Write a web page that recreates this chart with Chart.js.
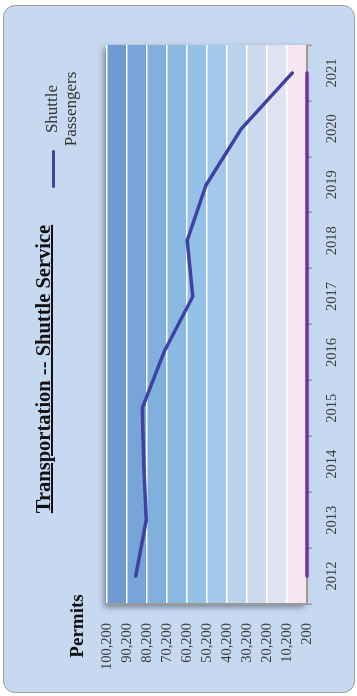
<!DOCTYPE html>
<html>
<head>
<meta charset="utf-8">
<script src="https://cdn.jsdelivr.net/npm/chart.js@4/dist/chart.umd.min.js"></script>
<style>
  html, body { margin: 0; padding: 0; background: #ffffff; }
  body { width: 357px; height: 696px; overflow: hidden; position: relative; }
  /* The chart is laid out landscape and turned a quarter-turn counter-clockwise */
  #wrap {
    position: absolute; left: 0; top: 0; width: 696px; height: 357px;
    transform-origin: 0 0;
    transform: translate(0px, 696px) rotate(-90deg);
  }
  #panel {
    position: absolute; left: 3px; top: 3px; width: 688px; height: 352px;
    box-sizing: border-box; border: 1.5px solid #9c9c9c; border-radius: 12px;
    background: #c6d9f0;
  }
  #chart { position: absolute; left: 0; top: 0; }
  .txt { position: absolute; font-family: "Liberation Serif", "Times New Roman", serif; color: #222; text-align: center; white-space: nowrap; }
  #title { left: 127px; width: 400px; top: 33px; font-size: 20.5px; line-height: 20px; font-weight: bold; text-decoration: underline; text-decoration-thickness: 1.5px; color: #111; }
  #ytitle { left: 20px; width: 100px; top: 67px; font-size: 19px; line-height: 19px; font-weight: bold; color: #111; }
  #legendText { left: 537px; width: 100px; top: 43px; font-size: 17px; line-height: 18.5px; color: #333; }
  #legendLine { position: absolute; left: 508px; top: 51.5px; width: 38px; height: 3.5px; border-radius: 2px; background: #3f42a3; }
</style>
</head>
<body>
<div id="wrap">
  <div id="panel"></div>
  <canvas id="chart" width="696" height="357"></canvas>
  <div id="title" class="txt">Transportation -- Shuttle Service</div>
  <div id="ytitle" class="txt">Permits</div>
  <div id="legendLine"></div>
  <div id="legendText" class="txt">Shuttle<br>Passengers</div>
</div>
<script>
// Years on the category axis
const years = ['2012', '2013', '2014', '2015', '2016', '2017', '2018', '2019', '2020', '2021'];

// Shuttle passengers per year
const shuttlePassengers = [85800, 80600, 81800, 82600, 71800, 57300, 60100, 50600, 33100, 7600];

// Flat series lying on the axis floor
const permitsBase = [200, 200, 200, 200, 200, 200, 200, 200, 200, 200];

// Value-axis ticks
const valueTicks = [200, 10200, 20200, 30200, 40200, 50200, 60200, 70200, 80200, 90200, 100200];

// Band fills, lowest band first
const bandColors = ['#f5e6f0', '#e1e2f1', '#ccdaed', '#b9d3ed', '#a4c8ea', '#94c1e8', '#8ab9e2', '#81b0dd', '#78a5d8', '#6e9ad0'];

const tickFont = { family: '"Liberation Serif", "Times New Roman", serif', size: 14.5 };
const tickColor = '#3a3a3a';

const bandsPlugin = {
  id: 'bands',
  beforeDraw(chart) {
    const { ctx, chartArea: a, scales: { y } } = chart;
    ctx.save();
    ctx.shadowColor = 'rgba(40, 50, 70, 0.55)';
    ctx.shadowBlur = 6;
    ctx.shadowOffsetX = -3;
    ctx.shadowOffsetY = -3;
    ctx.fillStyle = bandColors[bandColors.length - 1];
    ctx.fillRect(a.left, a.top, a.width, a.height);
    ctx.restore();
    ctx.save();
    for (let i = 0; i < valueTicks.length - 1; i++) {
      const y0 = y.getPixelForValue(valueTicks[i]);
      const y1 = y.getPixelForValue(valueTicks[i + 1]);
      ctx.fillStyle = bandColors[i];
      ctx.fillRect(a.left, y1, a.width, y0 - y1);
    }
    ctx.restore();
  }
};

new Chart(document.getElementById('chart'), {
  type: 'line',
  data: {
    labels: years,
    datasets: [
      {
        label: 'Shuttle Passengers',
        data: shuttlePassengers,
        borderColor: '#3f42a3',
        borderWidth: 3.5,
        pointRadius: 0,
        tension: 0,
        borderCapStyle: 'round',
        borderJoinStyle: 'round'
      },
      {
        label: 'Base',
        data: permitsBase,
        borderColor: '#7132a0',
        borderWidth: 3.5,
        pointRadius: 0,
        tension: 0,
        borderCapStyle: 'round',
        clip: 6
      }
    ]
  },
  options: {
    responsive: false,
    animation: false,
    devicePixelRatio: 1,
    layout: { padding: { top: 107, right: 45, bottom: 0, left: 0 } },
    plugins: {
      legend: { display: false },
      title: { display: false },
      tooltip: { enabled: false }
    },
    scales: {
      x: {
        offset: true,
        grid: { offset: true, drawOnChartArea: false, color: '#9a9a9a', tickLength: 5, lineWidth: 1.5 },
        border: { color: '#9a9a9a', width: 2 },
        ticks: { font: tickFont, color: tickColor, padding: 11, maxRotation: 0, autoSkip: false },
        afterFit(scale) { scale.height = 50; }
      },
      y: {
        min: 200,
        max: 100200,
        afterBuildTicks(scale) { scale.ticks = valueTicks.map(v => ({ value: v })); },
        grid: { color: '#ffffff', lineWidth: 1.5, drawTicks: false },
        border: { color: '#9a9a9a', width: 2 },
        ticks: {
          font: tickFont,
          color: tickColor,
          padding: 19,
          autoSkip: false,
          callback: v => Number(v).toLocaleString('en-US')
        },
        afterFit(scale) { scale.width = 92; }
      }
    }
  },
  plugins: [bandsPlugin]
});
</script>
</body>
</html>
